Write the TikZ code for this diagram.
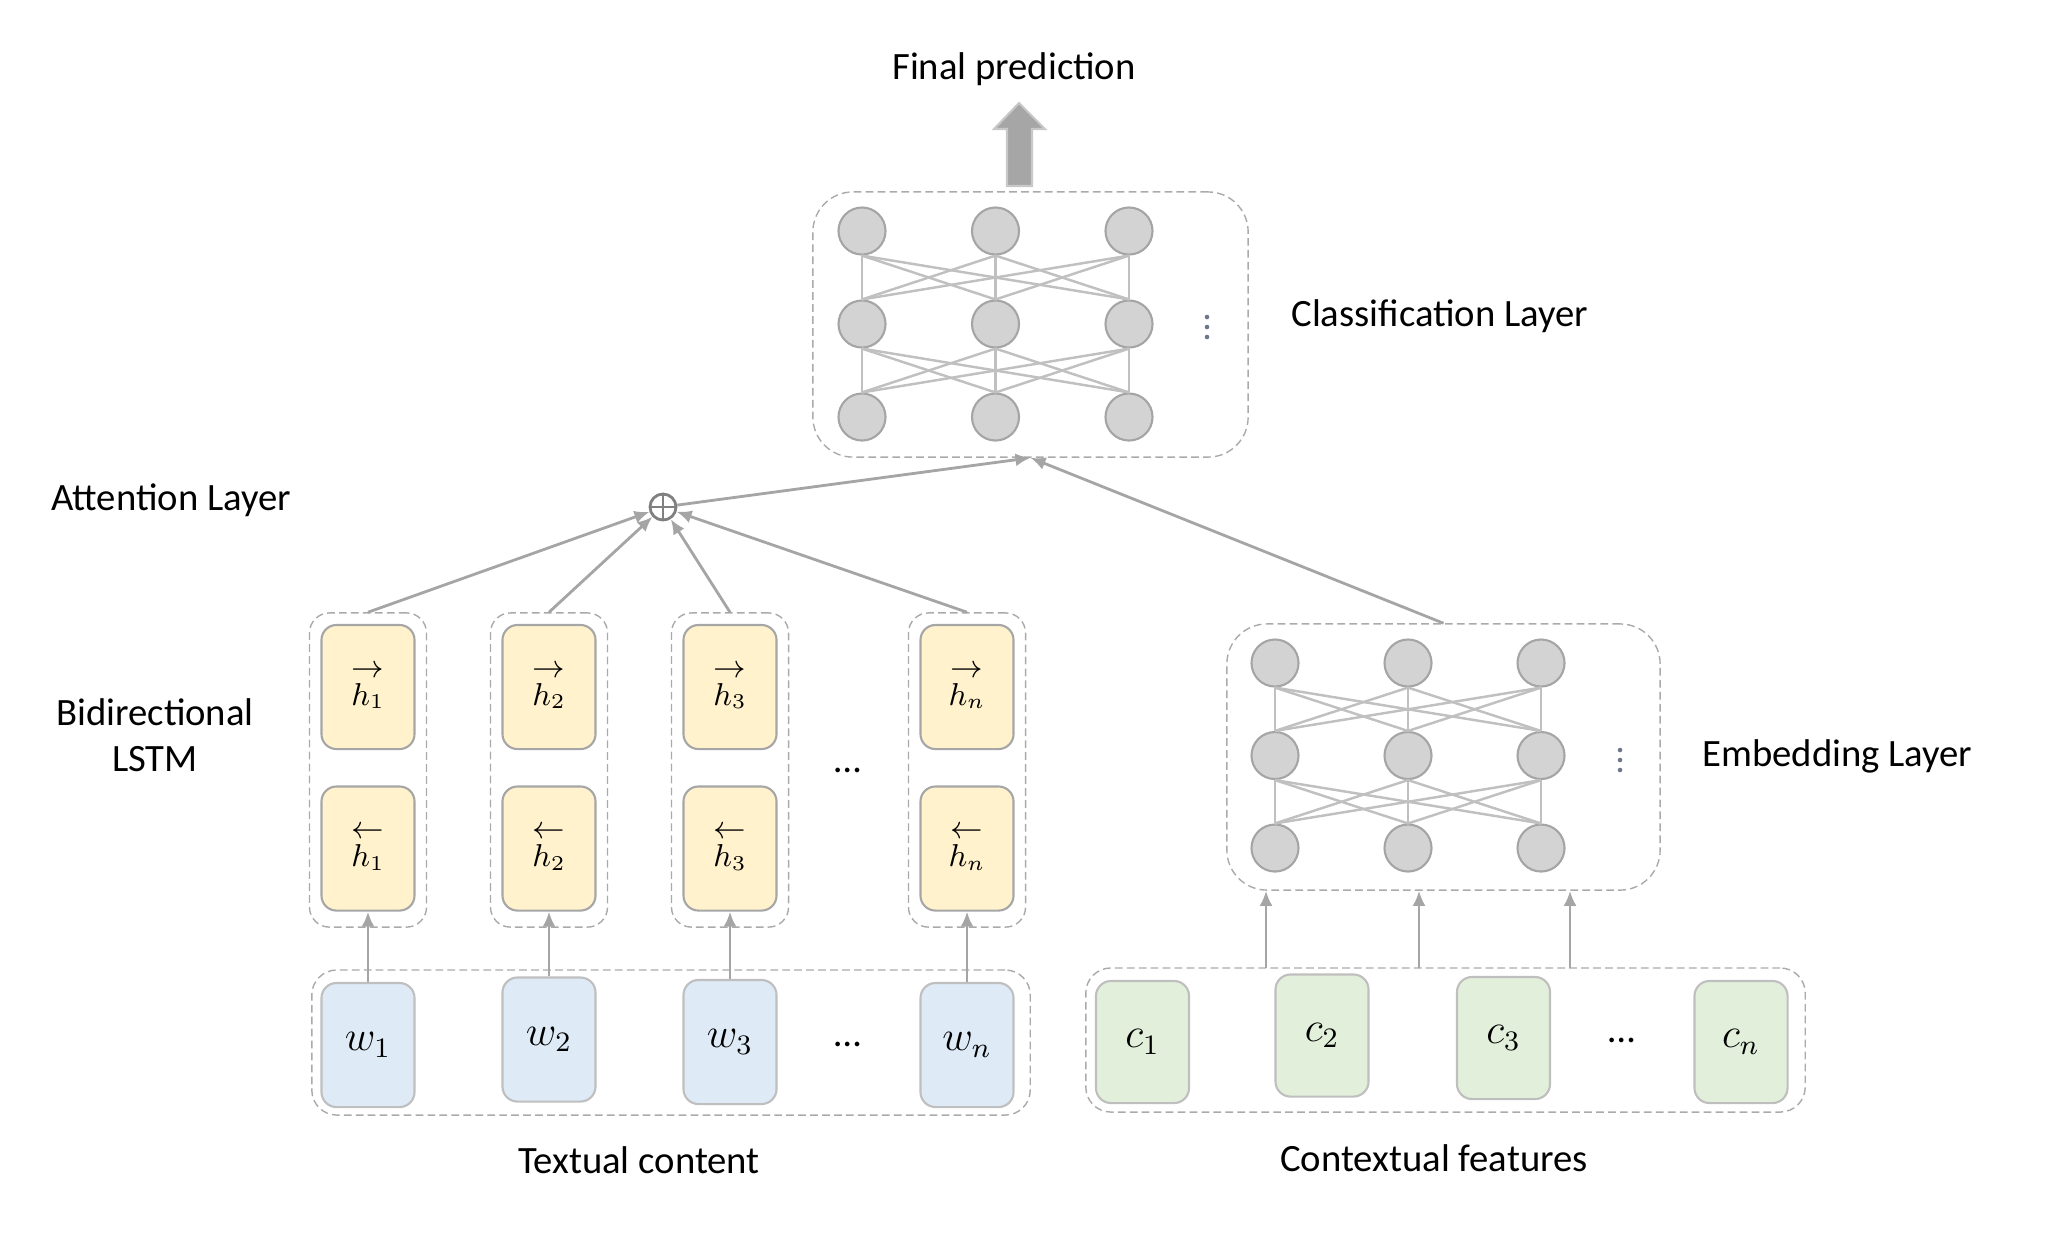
\documentclass[tikz,border=0pt]{standalone}
\usepackage{fontspec}
\setmainfont{Carlito}
\usepackage{tikz}
\usetikzlibrary{arrows.meta}

\definecolor{hfill}{RGB}{255,242,204}
\definecolor{hline}{RGB}{166,166,166}
\definecolor{wfill}{RGB}{222,234,246}
\definecolor{cfill}{RGB}{226,239,218}
\definecolor{wline}{RGB}{191,191,191}
\definecolor{nfill}{RGB}{211,211,211}
\definecolor{nline}{RGB}{165,165,165}
\definecolor{linkgray}{RGB}{192,192,192}
\definecolor{dashgray}{RGB}{170,170,170}
\definecolor{arrgray}{RGB}{165,165,165}
\definecolor{sumgray}{RGB}{128,128,128}
\definecolor{dotgray}{RGB}{110,118,140}
\definecolor{bigfill}{RGB}{166,166,166}
\definecolor{bigline}{RGB}{200,200,200}

\begin{document}
\begin{tikzpicture}[x=0.01cm,y=-0.01cm,
    font=\fontsize{11}{13}\selectfont,
    dashbox/.style={draw=dashgray,line width=0.4pt,dash pattern=on 2.2pt off 1.2pt,rounded corners=0.2cm},
    hbox/.style={draw=hline,fill=hfill,line width=0.6pt,rounded corners=0.15cm,minimum width=0.93cm,minimum height=1.24cm,align=center,font=\fontsize{9}{8}\selectfont},
    wbox/.style={hbox,draw=wline,fill=wfill,font=\fontsize{12}{14}\selectfont},
    cbox/.style={wbox,fill=cfill,minimum height=1.22cm},
    neuron/.style={circle,draw=nline,fill=nfill,line width=0.6pt,minimum size=0.47cm,inner sep=0pt},
    link/.style={draw=linkgray,line width=0.7pt},
    arr/.style={draw=arrgray,line width=0.8pt,-{Latex[length=0.15cm,width=0.13cm]}}]
  \useasboundingbox (0,0) rectangle (2046,1238);

  \node[circle,draw=sumgray,line width=0.8pt,minimum size=0.26cm,inner sep=0pt] (sum) at (663,507) {};
  \draw[sumgray,line width=0.8pt] (sum.north) -- (sum.south) (sum.west) -- (sum.east);

  \begin{scope}
    \node[dashbox,minimum width=7.18cm,minimum height=1.45cm,rounded corners=0.25cm] (txt) at (671,1042.5) {};
    \foreach \k/\x/\s/\wy in {1/368/1/1045,2/549/2/1039.5,3/730/3/1042,4/967/n/1045}
    {
      \node[dashbox,minimum width=1.17cm,minimum height=3.14cm] (g\k) at (\x,770) {};
      \node[hbox] (hf\k) at (\x,687) {$\rightarrow$\\$h_\s$};
      \node[hbox] (hb\k) at (\x,848.5) {$\leftarrow$\\$h_\s$};
      \node[wbox] (w\k) at (\x,\wy) {$w_\s$};
      \draw[arr] (w\k) -- (hb\k);
      \draw[arr] (g\k.north) -- (sum);
    }
    \node (hdots) at (848,770) {\ldots};
    \node (wdots) at (848,1044) {\ldots};
  \end{scope}

  \begin{scope}
    \node[dashbox,minimum width=7.19cm,minimum height=1.44cm,rounded corners=0.25cm] (ctx) at (1445.5,1040) {};
    \foreach \k/\x/\s/\cy in {1/1142.5/1/1042,2/1322/2/1035.5,3/1503.5/3/1038,4/1741/n/1042}
    {
      \node[cbox] (c\k) at (\x,\cy) {$c_\s$};
    }
    \node (cdots) at (1622,1040) {\ldots};
  \end{scope}

  \begin{scope}[shift={(862,231)}]
    \foreach \r in {1,2,3}
      \foreach \c in {1,2,3}
        \node[neuron] (cls-\r-\c) at ({(\c-1)*133.5},{(\r-1)*93}) {};
    \foreach \r/\rr in {1/2,2/3}
      \foreach \a in {1,2,3}
        \foreach \b in {1,2,3}
          \draw[link] (cls-\r-\a.south) -- (cls-\rr-\b.north);
  \end{scope}
  \node[dashbox,minimum width=4.35cm,minimum height=2.65cm,rounded corners=0.4cm] (cls) at (1030.5,324.5) {};
  \foreach \d in {-10,0,10}
    \fill[dotgray] (1207,327+\d) circle (2.3);

  \begin{scope}[shift={(1275,663)}]
    \foreach \r in {1,2,3}
      \foreach \c in {1,2,3}
        \node[neuron] (emb-\r-\c) at ({(\c-1)*133},{(\r-1)*92.5}) {};
    \foreach \r/\rr in {1/2,2/3}
      \foreach \a in {1,2,3}
        \foreach \b in {1,2,3}
          \draw[link] (emb-\r-\a.south) -- (emb-\rr-\b.north);
  \end{scope}
  \node[dashbox,minimum width=4.33cm,minimum height=2.66cm,rounded corners=0.4cm] (emb) at (1443.5,757) {};
  \foreach \d in {-10,0,10}
    \fill[dotgray] (1620,760+\d) circle (2.3);

  \foreach \k/\x in {1/1266,2/1419,3/1570}
  {
    \coordinate (ca\k) at (\x,968);
    \draw[arr] (ca\k) -- (ca\k |- emb.south);
  }
  \draw[arr] (sum) -- (cls.south);
  \draw[arr] (emb.north) -- (cls.south);

  \filldraw[fill=bigfill,draw=bigline,line width=0.6pt] (1007,186) -- (1007,129) -- (994,129) -- (1019,103) -- (1045,129) -- (1032,129) -- (1032,186) -- cycle;

  \node (final) at (1014,69) {Final prediction};
  \node[anchor=west] (clslab) at (1279,316) {Classification Layer};
  \node[anchor=west] (attlab) at (39,500) {Attention Layer};
  \node[align=center] (bilab) at (155,735) {Bidirectional\\LSTM};
  \node[anchor=west] (emblab) at (1690,756) {Embedding Layer};
  \node (txtlab) at (639,1160) {Textual content};
  \node (ctxlab) at (1434,1158) {Contextual features};
\end{tikzpicture}
\end{document}
